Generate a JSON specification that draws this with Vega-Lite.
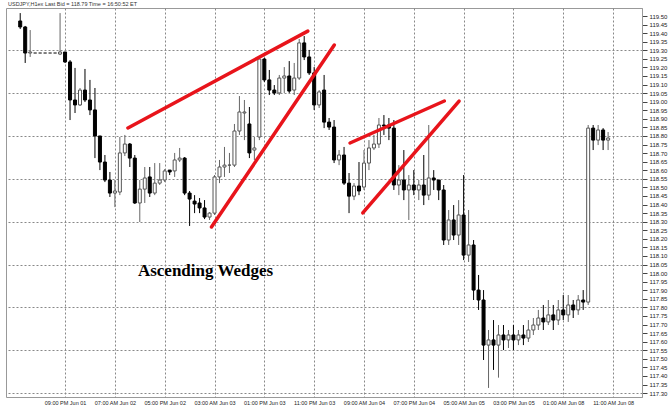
{
  "$schema": "https://vega.github.io/schema/vega-lite/v6.json",
  "width": 636,
  "height": 389,
  "autosize": "none",
  "padding": {"left": 6, "top": 8, "right": 30, "bottom": 11},
  "background": "white",
  "title": {"text": "USDJPY,H1ex   Last Bid = 118.79  Time = 16:50:52 ET", "anchor": "start", "fontSize": 5.5, "font": "Liberation Sans", "fontWeight": "normal", "color": "#333", "offset": 1, "dx": 2},
  "config": {"view": {"stroke": "#999", "strokeWidth": 1}},
  "datasets": {
    "candles": [
      {"i":1,"o":119.471,"h":119.517,"l":119.424,"c":119.436},
      {"i":2,"o":119.436,"h":119.442,"l":119.226,"c":119.284},
      {"i":3,"o":119.284,"h":119.418,"l":119.261,"c":119.290},
      {"i":4,"o":119.284,"h":119.284,"l":119.284,"c":119.284},
      {"i":5,"o":119.284,"h":119.284,"l":119.284,"c":119.284},
      {"i":6,"o":119.284,"h":119.284,"l":119.284,"c":119.284},
      {"i":7,"o":119.284,"h":119.284,"l":119.284,"c":119.284},
      {"i":8,"o":119.284,"h":119.284,"l":119.284,"c":119.284},
      {"i":9,"o":119.278,"h":119.517,"l":119.272,"c":119.290},
      {"i":10,"o":119.290,"h":119.290,"l":119.226,"c":119.232},
      {"i":11,"o":119.232,"h":119.243,"l":118.893,"c":119.010},
      {"i":12,"o":119.010,"h":119.197,"l":118.934,"c":118.981},
      {"i":13,"o":118.981,"h":119.080,"l":118.975,"c":119.068},
      {"i":14,"o":119.068,"h":119.191,"l":118.998,"c":119.010},
      {"i":15,"o":119.010,"h":119.127,"l":118.922,"c":118.952},
      {"i":16,"o":118.952,"h":119.080,"l":118.671,"c":118.800},
      {"i":17,"o":118.800,"h":118.800,"l":118.601,"c":118.648},
      {"i":18,"o":118.648,"h":118.689,"l":118.531,"c":118.543},
      {"i":19,"o":118.543,"h":118.590,"l":118.444,"c":118.467},
      {"i":20,"o":118.467,"h":118.543,"l":118.385,"c":118.479},
      {"i":21,"o":118.473,"h":118.794,"l":118.455,"c":118.701},
      {"i":22,"o":118.701,"h":118.806,"l":118.683,"c":118.753},
      {"i":23,"o":118.753,"h":118.759,"l":118.619,"c":118.671},
      {"i":24,"o":118.671,"h":118.689,"l":118.403,"c":118.409},
      {"i":25,"o":118.409,"h":118.543,"l":118.298,"c":118.490},
      {"i":26,"o":118.490,"h":118.619,"l":118.409,"c":118.555},
      {"i":27,"o":118.561,"h":118.619,"l":118.444,"c":118.467},
      {"i":28,"o":118.467,"h":118.642,"l":118.455,"c":118.525},
      {"i":29,"o":118.525,"h":118.642,"l":118.514,"c":118.543},
      {"i":30,"o":118.543,"h":118.607,"l":118.531,"c":118.596},
      {"i":31,"o":118.601,"h":118.601,"l":118.572,"c":118.590},
      {"i":32,"o":118.596,"h":118.701,"l":118.561,"c":118.660},
      {"i":33,"o":118.660,"h":118.730,"l":118.648,"c":118.671},
      {"i":34,"o":118.671,"h":118.677,"l":118.455,"c":118.467},
      {"i":35,"o":118.467,"h":118.479,"l":118.275,"c":118.432},
      {"i":36,"o":118.420,"h":118.455,"l":118.350,"c":118.403},
      {"i":37,"o":118.409,"h":118.438,"l":118.350,"c":118.380},
      {"i":38,"o":118.380,"h":118.426,"l":118.315,"c":118.327},
      {"i":39,"o":118.327,"h":118.356,"l":118.310,"c":118.350},
      {"i":40,"o":118.350,"h":118.572,"l":118.339,"c":118.561},
      {"i":41,"o":118.561,"h":118.660,"l":118.525,"c":118.619},
      {"i":42,"o":118.619,"h":118.736,"l":118.561,"c":118.630},
      {"i":43,"o":118.630,"h":118.701,"l":118.584,"c":118.630},
      {"i":44,"o":118.630,"h":118.870,"l":118.619,"c":118.829},
      {"i":45,"o":118.829,"h":119.033,"l":118.806,"c":118.940},
      {"i":46,"o":118.934,"h":119.010,"l":118.776,"c":118.940},
      {"i":47,"o":118.870,"h":118.969,"l":118.671,"c":118.701},
      {"i":48,"o":118.718,"h":118.794,"l":118.660,"c":118.730},
      {"i":49,"o":118.794,"h":119.249,"l":118.776,"c":119.249},
      {"i":50,"o":119.249,"h":119.255,"l":119.115,"c":119.127},
      {"i":51,"o":119.127,"h":119.185,"l":119.039,"c":119.068},
      {"i":52,"o":119.068,"h":119.097,"l":119.039,"c":119.051},
      {"i":53,"o":119.051,"h":119.156,"l":119.039,"c":119.138},
      {"i":54,"o":119.138,"h":119.202,"l":119.051,"c":119.150},
      {"i":55,"o":119.150,"h":119.237,"l":119.051,"c":119.062},
      {"i":56,"o":119.068,"h":119.226,"l":119.039,"c":119.138},
      {"i":57,"o":119.138,"h":119.366,"l":119.127,"c":119.343},
      {"i":58,"o":119.343,"h":119.383,"l":119.243,"c":119.261},
      {"i":59,"o":119.261,"h":119.302,"l":119.156,"c":119.168},
      {"i":60,"o":119.168,"h":119.202,"l":118.952,"c":118.981},
      {"i":61,"o":118.981,"h":119.068,"l":118.963,"c":119.057},
      {"i":62,"o":119.068,"h":119.156,"l":118.846,"c":118.881},
      {"i":63,"o":118.881,"h":118.905,"l":118.835,"c":118.852},
      {"i":64,"o":118.852,"h":118.893,"l":118.642,"c":118.660},
      {"i":65,"o":118.660,"h":118.718,"l":118.630,"c":118.689},
      {"i":66,"o":118.689,"h":118.736,"l":118.514,"c":118.525},
      {"i":67,"o":118.525,"h":118.584,"l":118.350,"c":118.449},
      {"i":68,"o":118.449,"h":118.525,"l":118.426,"c":118.508},
      {"i":69,"o":118.508,"h":118.648,"l":118.455,"c":118.479},
      {"i":70,"o":118.502,"h":118.718,"l":118.485,"c":118.642},
      {"i":71,"o":118.642,"h":118.776,"l":118.601,"c":118.730},
      {"i":72,"o":118.730,"h":118.806,"l":118.718,"c":118.753},
      {"i":73,"o":118.753,"h":118.905,"l":118.730,"c":118.864},
      {"i":74,"o":118.864,"h":118.922,"l":118.806,"c":118.858},
      {"i":75,"o":118.864,"h":118.905,"l":118.776,"c":118.846},
      {"i":76,"o":118.846,"h":118.893,"l":118.485,"c":118.514},
      {"i":77,"o":118.514,"h":118.630,"l":118.455,"c":118.543},
      {"i":78,"o":118.543,"h":118.718,"l":118.426,"c":118.485},
      {"i":79,"o":118.485,"h":118.572,"l":118.310,"c":118.514},
      {"i":80,"o":118.514,"h":118.601,"l":118.455,"c":118.485},
      {"i":81,"o":118.485,"h":118.543,"l":118.426,"c":118.514},
      {"i":82,"o":118.514,"h":118.689,"l":118.397,"c":118.455},
      {"i":83,"o":118.455,"h":118.864,"l":118.426,"c":118.555},
      {"i":84,"o":118.555,"h":118.601,"l":118.485,"c":118.543},
      {"i":85,"o":118.543,"h":118.543,"l":118.426,"c":118.485},
      {"i":86,"o":118.485,"h":118.514,"l":118.164,"c":118.193},
      {"i":87,"o":118.193,"h":118.368,"l":118.164,"c":118.310},
      {"i":88,"o":118.310,"h":118.397,"l":118.193,"c":118.222},
      {"i":89,"o":118.222,"h":118.426,"l":118.164,"c":118.339},
      {"i":90,"o":118.339,"h":118.572,"l":118.076,"c":118.105},
      {"i":91,"o":118.105,"h":118.368,"l":118.065,"c":118.164},
      {"i":92,"o":118.164,"h":118.193,"l":117.843,"c":117.901},
      {"i":93,"o":117.901,"h":117.989,"l":117.785,"c":117.843},
      {"i":94,"o":117.843,"h":117.901,"l":117.493,"c":117.580},
      {"i":95,"o":117.580,"h":117.668,"l":117.330,"c":117.610},
      {"i":96,"o":117.610,"h":117.726,"l":117.435,"c":117.580},
      {"i":97,"o":117.580,"h":117.697,"l":117.390,"c":117.639},
      {"i":98,"o":117.639,"h":117.697,"l":117.551,"c":117.610},
      {"i":99,"o":117.610,"h":117.668,"l":117.563,"c":117.639},
      {"i":100,"o":117.639,"h":117.697,"l":117.551,"c":117.610},
      {"i":101,"o":117.610,"h":117.668,"l":117.580,"c":117.639},
      {"i":102,"o":117.639,"h":117.697,"l":117.580,"c":117.621},
      {"i":103,"o":117.621,"h":117.726,"l":117.598,"c":117.668},
      {"i":104,"o":117.668,"h":117.738,"l":117.639,"c":117.697},
      {"i":105,"o":117.697,"h":117.785,"l":117.668,"c":117.738},
      {"i":106,"o":117.738,"h":117.814,"l":117.668,"c":117.715},
      {"i":107,"o":117.715,"h":117.843,"l":117.697,"c":117.756},
      {"i":108,"o":117.756,"h":117.814,"l":117.668,"c":117.726},
      {"i":109,"o":117.726,"h":117.843,"l":117.697,"c":117.785},
      {"i":110,"o":117.785,"h":117.872,"l":117.726,"c":117.756},
      {"i":111,"o":117.756,"h":117.872,"l":117.715,"c":117.814},
      {"i":112,"o":117.814,"h":117.843,"l":117.738,"c":117.785},
      {"i":113,"o":117.785,"h":117.872,"l":117.756,"c":117.843},
      {"i":114,"o":117.843,"h":117.901,"l":117.785,"c":117.831},
      {"i":115,"o":117.831,"h":118.864,"l":117.814,"c":118.846},
      {"i":116,"o":118.846,"h":118.864,"l":118.718,"c":118.776},
      {"i":117,"o":118.776,"h":118.864,"l":118.747,"c":118.835},
      {"i":118,"o":118.835,"h":118.846,"l":118.718,"c":118.776},
      {"i":119,"o":118.776,"h":118.823,"l":118.718,"c":118.788}
    ],
    "lines": [
      {"x1":22.62,"y1":118.847,"x2":58.72,"y2":119.412},
      {"x1":39.39,"y1":118.269,"x2":64.04,"y2":119.331},
      {"x1":67.20,"y1":118.759,"x2":86.13,"y2":119.004},
      {"x1":69.76,"y1":118.351,"x2":89.09,"y2":119.004}
    ],
    "notes": [
      {"x":38.2,"y":118.012,"label":"Ascending Wedges"}
    ]
  },
  "layer": [
    {
      "data": {"name": "candles"},
      "mark": {"type": "rule", "strokeWidth": 1},
      "encoding": {
        "x": {"field": "i", "type": "quantitative",
          "scale": {"domain": [-0.85, 124.8], "nice": false, "zero": false},
          "axis": {"orient": "bottom", "title": null, "values": [10,20,30,40,50,60,70,80,90,100,110,120], "tickCount": 50,
            "labelExpr": "['09:00 PM Jun 01','07:00 AM Jun 02','05:00 PM Jun 02','03:00 AM Jun 03','01:00 PM Jun 03','11:00 PM Jun 03','09:00 AM Jun 04','07:00 PM Jun 04','05:00 AM Jun 05','03:00 PM Jun 05','01:00 AM Jun 08','11:00 AM Jun 08'][round(datum.value/10)-1]",
            "grid": true, "gridDash": [2, 2], "gridColor": "#888", "gridWidth": 1,
            "ticks": false, "domain": false, "labelFontSize": 5.5, "labelFont": "Liberation Sans", "labelColor": "#222", "labelPadding": 3, "labelFlush": false, "labelOverlap": false}},
        "y": {"field": "l", "type": "quantitative",
          "scale": {"domain": [117.2771, 119.5467], "nice": false, "zero": false},
          "axis": {"orient": "right", "title": null, "tickCount": 100,
            "values": [117.30,117.35,117.40,117.45,117.50,117.55,117.60,117.65,117.70,117.75,117.80,117.85,117.90,117.95,118.00,118.05,118.10,118.15,118.20,118.25,118.30,118.35,118.40,118.45,118.50,118.55,118.60,118.65,118.70,118.75,118.80,118.85,118.90,118.95,119.00,119.05,119.10,119.15,119.20,119.25,119.30,119.35,119.40,119.45,119.50],
            "format": ".2f", "grid": true, "gridDash": [2, 2], "gridColor": "#888",
            "gridOpacity": {"condition": {"test": "abs((datum.value-117.3)/0.25 - round((datum.value-117.3)/0.25)) < 0.02", "value": 1}, "value": 0},
            "tickSize": 5, "tickColor": "#444", "domainColor": "#999", "labelFontSize": 6, "labelFont": "Liberation Sans", "labelColor": "#222", "labelPadding": 2, "labelOverlap": false, "labelBound": false}},
        "y2": {"field": "h"},
        "color": {"condition": {"test": "datum.c >= datum.o", "value": "#666"}, "value": "#000"}
      }
    },
    {
      "data": {"name": "candles"},
      "mark": {"type": "bar", "width": 3, "strokeWidth": 1},
      "encoding": {
        "x": {"field": "i", "type": "quantitative"},
        "y": {"field": "o", "type": "quantitative"},
        "y2": {"field": "c"},
        "fill": {"condition": {"test": "datum.c >= datum.o", "value": "#fff"}, "value": "#000"},
        "stroke": {"condition": {"test": "datum.c >= datum.o", "value": "#555"}, "value": "#000"}
      }
    },
    {
      "data": {"name": "lines"},
      "mark": {"type": "rule", "color": "#e8141b", "strokeWidth": 3.5, "strokeCap": "round"},
      "encoding": {
        "x": {"field": "x1", "type": "quantitative"},
        "y": {"field": "y1", "type": "quantitative"},
        "x2": {"field": "x2"},
        "y2": {"field": "y2"}
      }
    },
    {
      "data": {"name": "notes"},
      "mark": {"type": "text", "font": "Liberation Serif", "fontSize": 17, "fontWeight": "bold", "color": "#000", "align": "center", "baseline": "middle"},
      "encoding": {
        "x": {"field": "x", "type": "quantitative"},
        "y": {"field": "y", "type": "quantitative"},
        "text": {"field": "label"}
      }
    }
  ]
}
